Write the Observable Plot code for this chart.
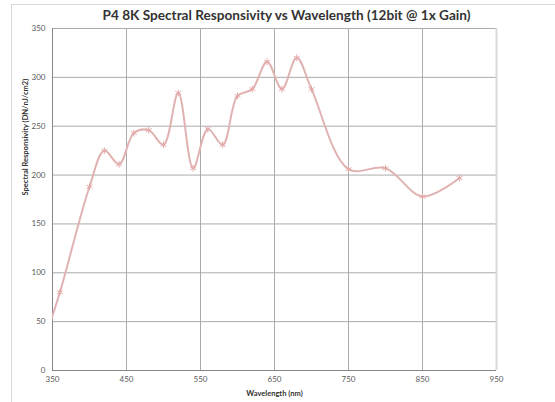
<!DOCTYPE html>
<html>
<head>
<meta charset="utf-8">
<script src="https://cdn.jsdelivr.net/npm/d3@7"></script>
<script src="https://cdn.jsdelivr.net/npm/@observablehq/plot@0.6"></script>
<style>
  html, body { margin: 0; padding: 0; background: #fff; overflow: hidden; }
  #wrap { position: relative; width: 555px; height: 402px; }
  #border { position: absolute; left: 11px; top: 4px; width: 700px; height: 600px; border: 1px solid #d9d9d9; box-sizing: border-box; pointer-events: none; }
  #chart { position: absolute; left: 0; top: 0; }
</style>
</head>
<body>
<div id="wrap"><div id="border"></div><div id="chart"></div></div>
<script>
const title = "P4 8K Spectral Responsivity vs Wavelength (12bit @ 1x Gain)";
const xTitle = "Wavelength (nm)";
const yTitle = "Spectral Responsivity (DN/nJ/cm2)";
const wavelengths = [340, 360, 400, 420, 440, 460, 480, 500, 520, 540, 560, 580, 600, 620, 640, 660, 680, 700, 750, 800, 850, 900];
const responsivity = [33, 80, 188, 225, 211, 243, 246, 231, 284, 207, 247, 231, 281, 288, 316, 288, 320, 288, 206, 207, 178, 197];
const xTicks = [350, 450, 550, 650, 750, 850, 950];
const yTicks = [0, 50, 100, 150, 200, 250, 300, 350];

const data = wavelengths.map((w, i) => ({w, v: responsivity[i]}));
const font = "Lato, 'Open Sans', sans-serif";

const plot = Plot.plot({
  width: 555,
  height: 402,
  marginLeft: 52,
  marginRight: 59,
  marginTop: 28,
  marginBottom: 32,
  style: {fontFamily: font, background: "transparent"},
  x: {domain: [350, 950]},
  y: {domain: [0, 350]},
  marks: [
    Plot.gridX(xTicks.slice(1, -1), {stroke: "#ababab", strokeOpacity: 1, strokeWidth: 1}),
    Plot.gridY(yTicks.slice(1), {stroke: "#ababab", strokeOpacity: 1, strokeWidth: 1}),
    Plot.ruleX([950], {stroke: "#d9d9d9", strokeWidth: 2}),
    Plot.ruleX([350], {stroke: "#868686", strokeWidth: 1}),
    Plot.ruleY([0], {stroke: "#868686", strokeWidth: 1}),
    Plot.axisX({ticks: xTicks, tickSize: 0, tickPadding: 6, fontSize: 8, color: "#595959", label: null}),
    Plot.axisY({ticks: yTicks, tickSize: 0, tickPadding: 7, fontSize: 8, color: "#595959", label: null}),
    Plot.line(data, {x: "w", y: "v", curve: "catmull-rom", stroke: "#e0b3b2", strokeWidth: 2, clip: true}),
    Plot.dot(data, {x: "w", y: "v", symbol: "asterisk", r: 3.2, stroke: "#e3a9a8", strokeWidth: 1, clip: true}),
    Plot.text([title], {frameAnchor: "top", dx: 12, dy: -13, fontSize: 13.6, fontWeight: "bold", fill: "#333333", lineAnchor: "middle"}),
    Plot.text([xTitle], {frameAnchor: "bottom", dy: 23, fontSize: 7.5, fontWeight: "bold", fill: "#333333", lineAnchor: "middle"}),
    Plot.text([yTitle], {frameAnchor: "left", dx: -27, dy: -4, rotate: -90, fontSize: 7.5, fontWeight: "bold", fill: "#333333", lineAnchor: "middle"})
  ]
});
document.getElementById("chart").appendChild(plot);
</script>
</body>
</html>
